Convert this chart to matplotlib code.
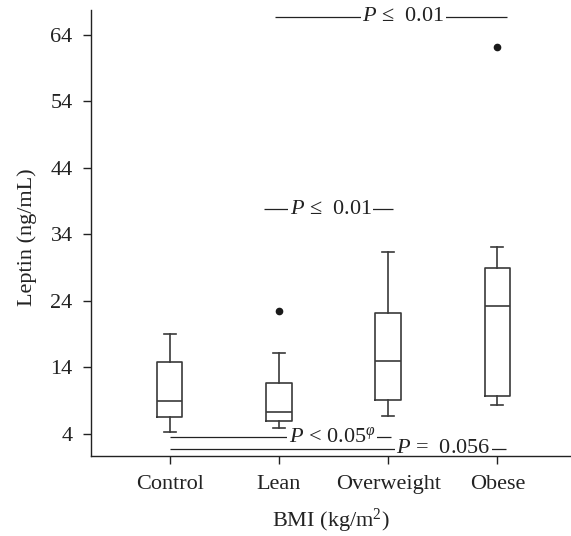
import matplotlib
matplotlib.use("Agg")
import matplotlib.pyplot as plt

plt.rcParams['font.family'] = ['Liberation Serif', 'DejaVu Serif']
plt.rcParams['mathtext.fontset'] = 'custom'
plt.rcParams['mathtext.rm'] = 'Liberation Serif'
plt.rcParams['mathtext.it'] = 'Liberation Serif:italic'
plt.rcParams['mathtext.bf'] = 'Liberation Serif:bold'

# ---- data ----
categories = ['Control', 'Lean', 'Overweight', 'Obese']
whislo = [4.26, 4.86, 6.71, 8.32]
q1 = [6.56, 5.91, 9.07, 9.67]
med = [8.96, 7.22, 14.98, 23.25]
q3 = [14.78, 11.58, 22.15, 28.87]
whishi = [18.99, 16.09, 31.37, 32.12]
fliers = [[], [22.5], [], [62.1]]

yticks = [4, 14, 24, 34, 44, 54, 64]

ann_labels = ['$P$ ≤  0.01', '$P$ ≤  0.01', '$P$ < 0.05$^{\\varphi}$', '$P$ =  0.056']
ann_y = [66.7, 37.75, 3.55, 1.74]
ann_x0 = [1.965, 1.865, 1.0, 1.0]
ann_x1 = [4.09, 3.04, 3.03, 4.08]
ann_xtext = [3.14, 2.476, 2.487, 3.505]

# ---- figure ----
fig = plt.figure(figsize=(5.71, 5.36), dpi=100)
ax = fig.add_axes([0.159, 0.150, 0.841, 0.831])

stats = []
for i, c in enumerate(categories):
    stats.append(dict(label=c, med=med[i], q1=q1[i], q3=q3[i],
                      whislo=whislo[i], whishi=whishi[i], fliers=fliers[i]))

box_col = '#3a3a3a'
lw = 1.2
ax.bxp(stats, positions=range(1, len(categories) + 1), widths=0.235,
       capwidths=0.11, showfliers=True,
       boxprops=dict(color=box_col, linewidth=lw),
       medianprops=dict(color=box_col, linewidth=lw),
       whiskerprops=dict(color=box_col, linewidth=lw),
       capprops=dict(color=box_col, linewidth=lw),
       flierprops=dict(marker='o', markersize=4.5, markerfacecolor='#1a1a1a',
                       markeredgecolor='#1a1a1a', linestyle='none'))

for lab, y, x0, x1, xt in zip(ann_labels, ann_y, ann_x0, ann_x1, ann_xtext):
    ax.hlines(y, x0, x1, color='#222222', linewidth=0.9, zorder=1)
    ax.text(xt, y, lab, ha='center', va='center', fontsize=16, color='#222222',
            zorder=2,
            bbox=dict(boxstyle='square,pad=0.06', fc='white', ec='none'))

ax.set_xlim(0.279, 4.673)
ax.set_ylim(0.7, 67.7)
ax.set_yticks(yticks)
ax.set_xticks(range(1, len(categories) + 1))
ax.set_xticklabels(categories)

for s in ['top', 'right']:
    ax.spines[s].set_visible(False)
for s in ['left', 'bottom']:
    ax.spines[s].set_linewidth(1.0)
    ax.spines[s].set_color('#222222')
    ax.spines[s].set_zorder(2.5)

ax.tick_params(axis='both', direction='out', length=6, width=1.0,
               color='#222222', labelcolor='#222222', labelsize=16)
ax.tick_params(axis='x', pad=8)
ax.tick_params(axis='y', pad=7)

ax.set_xlabel('BMI (kg/m$^2$)', fontsize=16, color='#222222', labelpad=9)
ax.set_ylabel('Leptin (ng/mL)', fontsize=16, color='#222222')
ax.yaxis.set_label_coords(-0.112, 0.49)

fig.savefig('out.png', dpi=100)
